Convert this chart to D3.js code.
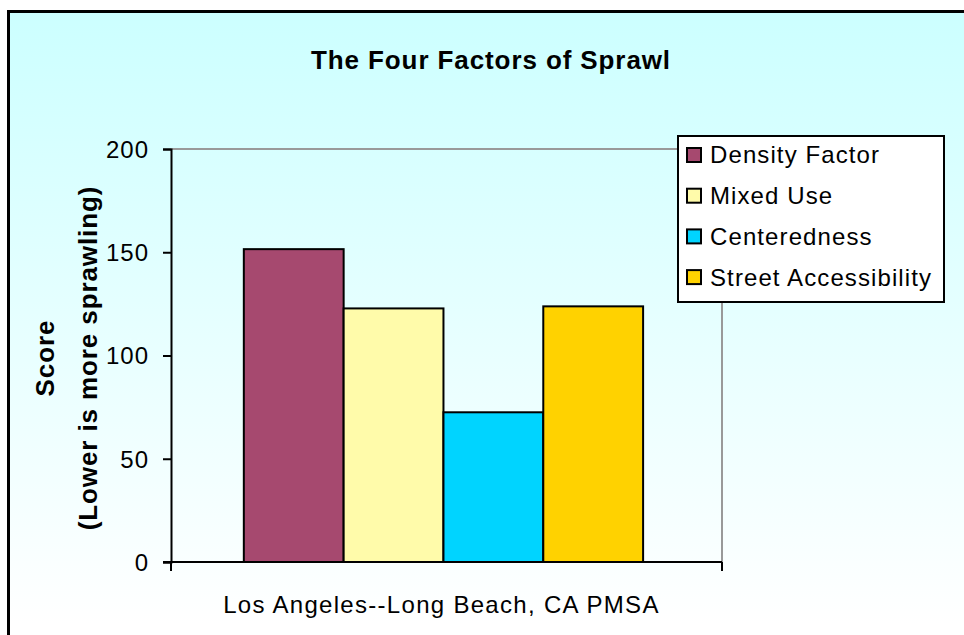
<!DOCTYPE html>
<html>
<head>
<meta charset="utf-8">
<script src="https://cdn.jsdelivr.net/npm/d3@7"></script>
<style>
  body { margin: 0; background: #fff; }
  svg { display: block; }
  text { font-family: "Liberation Sans", Arial, sans-serif; fill: #000; }
</style>
</head>
<body>
<svg></svg>
<script>
const width = 964;
const height = 635;

// chart data
const categories = ["Los Angeles--Long Beach, CA PMSA"];
const seriesNames = ["Density Factor", "Mixed Use", "Centeredness", "Street Accessibility"];
const seriesValues = [151.5, 122.8, 72.5, 123.8];
const seriesColors = ["#a6496f", "#fffbaa", "#00d4ff", "#ffd200"];
const yTicks = [0, 50, 100, 150, 200];

const plot = { left: 171, right: 722, top: 149, bottom: 562 };

let svg = d3.select("svg").attr("width", width).attr("height", height);

function drawBackground() {
    let grad = svg.append("defs").append("linearGradient")
        .attr("id", "bg")
        .attr("x1", 0).attr("y1", 0).attr("x2", 0).attr("y2", 1);
    grad.append("stop").attr("offset", "0%").attr("stop-color", "#ccffff");
    grad.append("stop").attr("offset", "95%").attr("stop-color", "#ffffff");

    svg.append("rect")
        .attr("x", 8.5).attr("y", 11.5)
        .attr("width", width + 10).attr("height", height + 10)
        .attr("fill", "url(#bg)")
        .attr("stroke", "#000")
        .attr("stroke-width", 3);
}

function createAxis() {
    let scaleX = d3.scaleBand()
        .domain(categories)
        .range([plot.left, plot.right])
        .paddingInner(0)
        .paddingOuter(0.19)
        .align(0.48);
    let scaleY = d3.scaleLinear()
        .domain([0, 200])
        .range([plot.bottom, plot.top]);

    // plot border (top and right, gray)
    svg.append("path")
        .attr("d", `M${plot.left},${plot.top}H${plot.right}V${plot.bottom}`)
        .attr("fill", "none")
        .attr("stroke", "#999")
        .attr("stroke-width", 2);

    let axisY = d3.axisLeft(scaleY).tickValues(yTicks).tickSize(8).tickPadding(14);
    let gy = svg.append("g")
        .attr("transform", `translate(${plot.left}, 0)`)
        .call(axisY);
    gy.select(".domain").attr("stroke", "#000").attr("stroke-width", 2);
    gy.selectAll(".tick line").attr("stroke", "#000").attr("stroke-width", 2);
    gy.selectAll(".tick text")
        .style("font-size", "24px")
        .style("letter-spacing", "1px")
        .attr("dy", "0.35em");

    // x axis with boundary ticks at category edges
    let gx = svg.append("g").attr("transform", `translate(0, ${plot.bottom})`);
    gx.append("line")
        .attr("x1", plot.left - 8).attr("x2", plot.right)
        .attr("stroke", "#000").attr("stroke-width", 2);
    gx.selectAll(".edge")
        .data([plot.left, plot.right])
        .enter()
        .append("line")
        .attr("x1", d => d).attr("x2", d => d)
        .attr("y1", 0).attr("y2", 9)
        .attr("stroke", "#000").attr("stroke-width", 2);
    gx.selectAll(".cat")
        .data(categories)
        .enter()
        .append("text")
        .attr("x", d => scaleX(d) + scaleX.bandwidth() / 2 - 2)
        .attr("y", 51)
        .attr("text-anchor", "middle")
        .style("font-size", "24px")
        .style("letter-spacing", "1.3px")
        .text(d => d);

    return [scaleX, scaleY];
}

function createBars(scaleX, scaleY) {
    let inner = d3.scaleBand()
        .domain(seriesNames)
        .range([0, scaleX.bandwidth()]);
    let rows = seriesNames.map((name, i) => ({ name: name, value: seriesValues[i], color: seriesColors[i] }));
    svg.selectAll(".bar")
        .data(rows)
        .enter()
        .append("rect")
        .attr("class", "bar")
        .attr("x", d => scaleX(categories[0]) + inner(d.name))
        .attr("y", d => scaleY(d.value))
        .attr("width", inner.bandwidth())
        .attr("height", d => scaleY(0) - scaleY(d.value))
        .attr("fill", d => d.color)
        .attr("stroke", "#000")
        .attr("stroke-width", 2);
}

function createTitles() {
    svg.append("text")
        .attr("x", 491)
        .attr("y", 69)
        .attr("text-anchor", "middle")
        .style("font-size", "26px")
        .style("font-weight", "bold")
        .style("letter-spacing", "0.9px")
        .text("The Four Factors of Sprawl");

    let yTitle = svg.append("text")
        .attr("transform", `translate(0, 358) rotate(-90)`)
        .attr("text-anchor", "middle")
        .style("font-size", "26px")
        .style("font-weight", "bold")
        .style("letter-spacing", "0.9px");
    yTitle.append("tspan").attr("x", 0).attr("y", 54).text("Score");
    yTitle.append("tspan").attr("x", 0).attr("y", 97).text("(Lower is more sprawling)");
}

function createLegend() {
    let g = svg.append("g").attr("transform", "translate(678, 136)");
    g.append("rect")
        .attr("width", 266).attr("height", 166)
        .attr("fill", "#fff")
        .attr("stroke", "#000")
        .attr("stroke-width", 2);
    let items = g.selectAll(".item")
        .data(seriesNames)
        .enter()
        .append("g")
        .attr("transform", (d, i) => `translate(0, ${19 + i * 40.7})`);
    items.append("rect")
        .attr("x", 9).attr("y", -7)
        .attr("width", 14).attr("height", 14)
        .attr("fill", (d, i) => seriesColors[i])
        .attr("stroke", "#000")
        .attr("stroke-width", 2);
    items.append("text")
        .attr("x", 32)
        .attr("dy", "0.35em")
        .style("font-size", "24px")
        .style("letter-spacing", "1.1px")
        .text(d => d);
}

drawBackground();
const [scX, scY] = createAxis();
createBars(scX, scY);
createTitles();
createLegend();
</script>
</body>
</html>
